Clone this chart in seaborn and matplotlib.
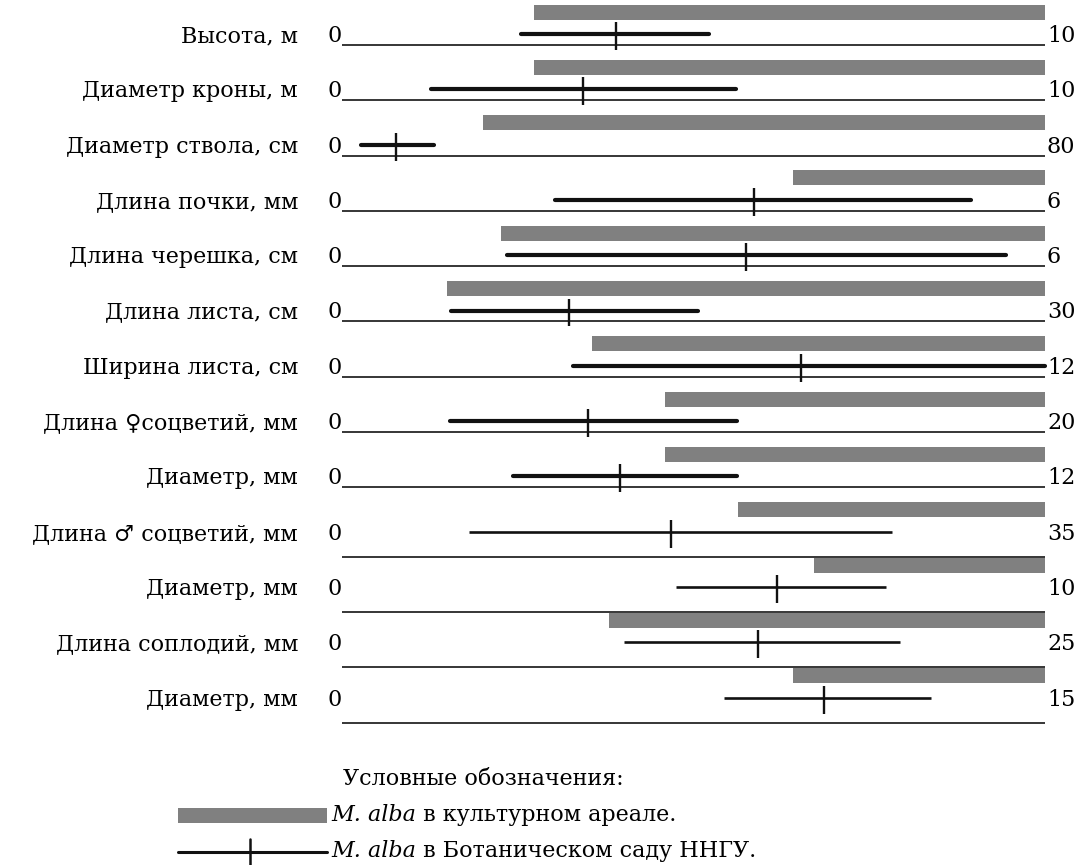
import numpy as np
import pandas as pd
import matplotlib
matplotlib.use("Agg")
import matplotlib.pyplot as plt
from matplotlib.lines import Line2D
from matplotlib.patches import Rectangle
import seaborn as sns

# ---------------- data ----------------
labels = ["Высота, м", "Диаметр кроны, м", "Диаметр ствола, см", "Длина почки, мм",
          "Длина черешка, см", "Длина листа, см", "Ширина листа, см",
          "Длина ♀соцветий, мм", "Диаметр, мм", "Длина ♂ соцветий, мм",
          "Диаметр, мм", "Длина соплодий, мм", "Диаметр, мм"]
max_vals = [10, 10, 80, 6, 6, 30, 12, 20, 12, 35, 10, 25, 15]
max_labels = ["10", "10", "80", "6", "6", "30", "12", "20", "12", "35", "10", "25", "15"]
# M. alba in cultivated range (grey bar: from min to scale max)
area_min = [2.73, 2.73, 16.0, 3.85, 1.36, 4.48, 4.26, 9.2, 5.52, 19.7, 6.72, 9.5, 9.63]
# M. alba in the NNGU Botanical garden (min, mean, max)
garden_min = [2.55, 1.26, 2.19, 1.82, 1.41, 4.64, 3.94, 3.07, 2.92, 6.33, 4.75, 10.04, 8.16]
garden_mean = [3.9, 3.43, 6.15, 3.52, 3.45, 9.69, 7.84, 7.0, 4.75, 16.4, 6.19, 14.78, 10.28]
garden_max = [5.22, 5.61, 10.5, 5.37, 5.67, 15.2, 12.0, 11.25, 6.75, 27.4, 7.74, 19.84, 12.57]

legend_title = "Условные обозначения:"
legend_bar = ("M. alba", " в культурном ареале.")
legend_line = ("M. alba", " в Ботаническом саду ННГУ.")

# ---------------- frame ----------------
df = pd.DataFrame({"label": labels, "max": max_vals, "amin": area_min,
                   "gmin": garden_min, "gmean": garden_mean, "gmax": garden_max})
df["row"] = np.arange(len(df))
for c in ["amin", "gmin", "gmean", "gmax"]:
    df[c + "_n"] = df[c] / df["max"]

sns.set_theme(style="white")
plt.rcParams["font.family"] = ["DejaVu Serif", "DejaVu Sans"]
plt.rcParams["text.color"] = "black"
FS = 16

W, H = 1077, 865
fig = plt.figure(figsize=(W / 100, H / 100), dpi=100)
ax = fig.add_axes([0, 0, 1, 1])

X0, XW = 342.0, 703.0          # pixel of value 0 and length of full scale
PITCH, Y0 = 55.3, 36.0         # row pitch and first row center (pixels)

def p(v):  # pixel offset -> row units
    return v / PITCH

grey = "#808080"
ink = "#111111"
rows = df["row"].to_numpy()

# grey bars (cultivated range)
ax.barh(rows - p(24), 1 - df["amin_n"], left=df["amin_n"], height=p(15),
        color=grey, linewidth=0)

# baselines
base_off = np.where(rows < 9, p(9), p(23))
ax.hlines(rows + base_off, 0, 1, color="black", lw=1.1)

# range lines via seaborn
long = pd.concat([
    pd.DataFrame({"row": rows, "x": df["gmin_n"], "y": rows - p(2)}),
    pd.DataFrame({"row": rows, "x": df["gmax_n"], "y": rows - p(2)}),
])
thick = long[long["row"] < 9]
thin = long[long["row"] >= 9]
sns.lineplot(data=thick, x="x", y="y", units="row", estimator=None, color=ink,
             lw=3.0, solid_capstyle="round", ax=ax, legend=False, sort=False)
sns.lineplot(data=thin, x="x", y="y", units="row", estimator=None, color=ink,
             lw=1.9, solid_capstyle="butt", ax=ax, legend=False, sort=False)

# mean ticks
ax.vlines(df["gmean_n"], rows - p(14), rows + p(14), color=ink, lw=1.7)

ax.set_xlim(-X0 / XW, (W - X0) / XW)
ax.set_ylim((H - Y0) / PITCH, -Y0 / PITCH)
ax.axis("off")

# texts
for i, r in df.iterrows():
    ax.text((298 - X0) / XW, r["row"], r["label"], ha="right", va="center", fontsize=FS)
    ax.text(0, r["row"], "0", ha="right", va="center", fontsize=FS)
    ax.text((1047 - X0) / XW, r["row"], max_labels[i], ha="left", va="center", fontsize=FS)

# legend (figure pixel coordinates)
def fx(x):
    return x / W

def fy(y):
    return 1 - y / H

fig.text(fx(343), fy(779), legend_title, ha="left", va="center", fontsize=FS)
fig.add_artist(Rectangle((fx(178), fy(823)), fx(327) - fx(178), fy(808) - fy(823),
                         transform=fig.transFigure, color=grey, lw=0))
t1 = fig.text(fx(331), fy(815), legend_bar[0], ha="left", va="center", fontsize=FS,
              style="italic")
ax.annotate(legend_bar[1], xy=(1, 0.5), xycoords=t1, ha="left", va="center", fontsize=FS)

fig.add_artist(Line2D([fx(178), fx(327)], [fy(852), fy(852)], transform=fig.transFigure,
                      color=ink, lw=2.2))
fig.add_artist(Line2D([fx(250), fx(250)], [fy(839), fy(866)], transform=fig.transFigure,
                      color=ink, lw=1.8))
t2 = fig.text(fx(331), fy(851), legend_line[0], ha="left", va="center", fontsize=FS,
              style="italic")
ax.annotate(legend_line[1], xy=(1, 0.5), xycoords=t2, ha="left", va="center", fontsize=FS)

fig.savefig("out.png", dpi=100, facecolor="white")
